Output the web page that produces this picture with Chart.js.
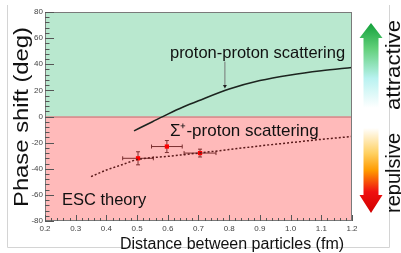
<!DOCTYPE html>
<html>
<head>
<meta charset="utf-8">
<script src="https://cdn.jsdelivr.net/npm/chart.js@4.4.0/dist/chart.umd.min.js"></script>
<style>
  body { margin: 0; background: #fff; }
  #wrap { width: 401px; height: 253px; }
</style>
</head>
<body>
<div id="wrap"><canvas id="myChart" width="401" height="253"></canvas></div>
<script>
// proton-proton curve
const ppX = [0.49, 0.55, 0.6, 0.65, 0.7, 0.8, 0.9, 1.0, 1.1, 1.2];
const ppY = [-11, -4, 1.8, 7.2, 12, 21, 27.5, 31.8, 35, 37.5];

// ESC theory (sigma+ p)
const escX = [0.35, 0.4, 0.45, 0.5, 0.6, 0.7, 0.8, 0.9, 1.0, 1.1, 1.2];
const escY = [-46, -41, -37, -33, -30.5, -28, -25.3, -22.5, -20, -17.5, -15.3];

// measured points with errors
const dataX = [0.503, 0.597, 0.705];
const dataY = [-32, -23, -28];
const dataXerr = [0.05, 0.05, 0.052];
const dataYerr = [5, 4.6, 3];

const xTicks = { min: 0.2, max: 1.2, step: 0.1, minor: 0.02 };
const yTicks = { min: -80, max: 80, step: 20, minor: 4 };

const FONT = '"Liberation Sans", Arial, sans-serif';

const canvas = document.getElementById('myChart');
const ctx = canvas.getContext('2d');

function toPoints(xs, ys) {
  return xs.map((x, i) => ({ x: x, y: ys[i] }));
}

// draw text stretched along its direction to fit a given length
function fitText(ctx, text, size, len) {
  ctx.font = size + 'px ' + FONT;
  const w = ctx.measureText(text).width;
  ctx.save();
  ctx.scale(len / w, 1);
  ctx.fillText(text, 0, 0);
  ctx.restore();
}

const bgPlugin = {
  id: 'bands',
  beforeDatasetsDraw(chart) {
    const { ctx, chartArea: a, scales: { x, y } } = chart;
    const y0 = y.getPixelForValue(0);
    ctx.save();
    ctx.fillStyle = '#b9e8cf';
    ctx.fillRect(a.left, a.top, a.right - a.left, y0 - a.top);
    ctx.fillStyle = '#ffbaba';
    ctx.fillRect(a.left, y0, a.right - a.left, a.bottom - y0);
    ctx.strokeStyle = '#b86868';
    ctx.lineWidth = 1;
    ctx.beginPath();
    ctx.moveTo(a.left, y0 + 0.5);
    ctx.lineTo(a.right, y0 + 0.5);
    ctx.stroke();

    // error bars (under the markers)
    ctx.strokeStyle = '#7a3030';
    ctx.lineWidth = 1;
    ctx.beginPath();
    dataX.forEach((dx, i) => {
      const px = x.getPixelForValue(dx);
      const py = y.getPixelForValue(dataY[i]);
      const x1 = x.getPixelForValue(dx - dataXerr[i]);
      const x2 = x.getPixelForValue(dx + dataXerr[i]);
      const y1 = y.getPixelForValue(dataY[i] + dataYerr[i]);
      const y2 = y.getPixelForValue(dataY[i] - dataYerr[i]);
      ctx.moveTo(x1, py); ctx.lineTo(x2, py);
      ctx.moveTo(x1, py - 2); ctx.lineTo(x1, py + 2);
      ctx.moveTo(x2, py - 2); ctx.lineTo(x2, py + 2);
      ctx.moveTo(px, y1); ctx.lineTo(px, y2);
      ctx.moveTo(px - 2, y1); ctx.lineTo(px + 2, y1);
      ctx.moveTo(px - 2, y2); ctx.lineTo(px + 2, y2);
    });
    ctx.stroke();
    ctx.restore();
  },
  afterDatasetsDraw(chart) {
    const { ctx, chartArea: a, scales: { x, y } } = chart;
    ctx.save();
    // plot frame
    ctx.strokeStyle = '#7a7a7a';
    ctx.lineWidth = 1;
    ctx.strokeRect(a.left + 0.5, a.top + 0.5, a.right - a.left - 1, a.bottom - a.top - 1);
    // ticks inside
    ctx.strokeStyle = '#555';
    ctx.beginPath();
    for (let v = yTicks.min; v <= yTicks.max + 0.001; v += yTicks.minor) {
      const py = Math.round(y.getPixelForValue(v)) + 0.5;
      const len = Math.abs(v % yTicks.step) < 0.01 ? 9 : 4.5;
      ctx.moveTo(a.left, py);
      ctx.lineTo(a.left + len, py);
    }
    for (let i = 0; i <= Math.round((xTicks.max - xTicks.min) / xTicks.minor); i++) {
      const v = xTicks.min + i * xTicks.minor;
      const px = Math.round(x.getPixelForValue(v)) + 0.5;
      const len = i % 5 === 0 ? 6 : 3;
      ctx.moveTo(px, a.bottom);
      ctx.lineTo(px, a.bottom - len);
    }
    ctx.stroke();

    // annotation texts
    ctx.fillStyle = '#111';
    ctx.textBaseline = 'alphabetic';
    ctx.textAlign = 'left';
    ctx.font = '16.5px ' + FONT;
    ctx.fillText('proton-proton scattering', x.getPixelForValue(0.607), y.getPixelForValue(44.6));
    ctx.fillText('ESC theory', x.getPixelForValue(0.255), y.getPixelForValue(-67.7));
    ctx.font = '17px ' + FONT;
    ctx.fillText('\u03A3\u207A-proton scattering', x.getPixelForValue(0.607), y.getPixelForValue(-15));

    // small pointer arrow
    const ax = x.getPixelForValue(0.786);
    const aTop = y.getPixelForValue(42);
    const aTip = y.getPixelForValue(21.5);
    ctx.strokeStyle = '#777';
    ctx.beginPath();
    ctx.moveTo(ax, aTop);
    ctx.lineTo(ax, aTip - 3);
    ctx.stroke();
    ctx.fillStyle = '#222';
    ctx.beginPath();
    ctx.moveTo(ax - 2, aTip - 3.5);
    ctx.lineTo(ax + 2, aTip - 3.5);
    ctx.lineTo(ax, aTip);
    ctx.closePath();
    ctx.fill();
    ctx.restore();
  },
  afterDraw(chart) {
    const { ctx } = chart;
    ctx.save();
    // light outer frame
    ctx.strokeStyle = '#d4d4d4';
    ctx.lineWidth = 1;
    ctx.beginPath();
    ctx.moveTo(7.5, 5);
    ctx.lineTo(7.5, 247.5);
    ctx.lineTo(389.5, 247.5);
    ctx.lineTo(389.5, 5);
    ctx.stroke();

    // axis titles
    ctx.fillStyle = '#111';
    ctx.font = '16px ' + FONT;
    ctx.textAlign = 'center';
    ctx.textBaseline = 'alphabetic';
    ctx.fillText('Distance between particles (fm)', 232, 249);

    ctx.save();
    ctx.translate(27.5, 117);
    ctx.rotate(-Math.PI / 2);
    fitText(ctx, 'Phase shift (deg)', 20.5, 180);
    ctx.restore();

    // side arrows
    const cx = 371;
    let g = ctx.createLinearGradient(0, 23, 0, 108);
    g.addColorStop(0, '#12a03a');
    g.addColorStop(0.3, '#62d07a');
    g.addColorStop(0.65, '#b8f2f0');
    g.addColorStop(1, '#ffffff');
    ctx.fillStyle = g;
    ctx.beginPath();
    ctx.moveTo(cx, 23);
    ctx.lineTo(cx + 11.5, 38);
    ctx.lineTo(cx + 7.5, 38);
    ctx.lineTo(cx + 7.5, 108);
    ctx.lineTo(cx - 7.5, 108);
    ctx.lineTo(cx - 7.5, 38);
    ctx.lineTo(cx - 11.5, 38);
    ctx.closePath();
    ctx.fill();

    g = ctx.createLinearGradient(0, 128, 0, 213);
    g.addColorStop(0, '#ffffff');
    g.addColorStop(0.3, '#ffd060');
    g.addColorStop(0.5, '#ff9a00');
    g.addColorStop(0.75, '#f01010');
    g.addColorStop(1, '#d00000');
    ctx.fillStyle = g;
    ctx.beginPath();
    ctx.moveTo(cx - 7.5, 128);
    ctx.lineTo(cx + 7.5, 128);
    ctx.lineTo(cx + 7.5, 195);
    ctx.lineTo(cx + 11.5, 195);
    ctx.lineTo(cx, 213);
    ctx.lineTo(cx - 11.5, 195);
    ctx.lineTo(cx - 7.5, 195);
    ctx.closePath();
    ctx.fill();

    ctx.fillStyle = '#111';
    ctx.textAlign = 'center';
    ctx.textBaseline = 'alphabetic';
    ctx.save();
    ctx.translate(400, 65);
    ctx.rotate(-Math.PI / 2);
    fitText(ctx, 'attractive', 20, 90);
    ctx.restore();
    ctx.save();
    ctx.translate(400, 173);
    ctx.rotate(-Math.PI / 2);
    fitText(ctx, 'repulsive', 20, 80);
    ctx.restore();
    ctx.restore();
  }
};

const myChart = new Chart(ctx, {
  type: 'scatter',
  data: {
    datasets: [
      {
        label: 'proton-proton',
        data: toPoints(ppX, ppY),
        showLine: true,
        cubicInterpolationMode: 'monotone',
        borderColor: '#1c241f',
        borderWidth: 1.6,
        pointRadius: 0
      },
      {
        label: 'ESC theory',
        data: toPoints(escX, escY),
        showLine: true,
        cubicInterpolationMode: 'monotone',
        borderColor: '#5a1a1a',
        borderWidth: 1.5,
        borderDash: [2, 2],
        pointRadius: 0
      },
      {
        label: 'data',
        data: toPoints(dataX, dataY),
        pointStyle: 'rect',
        pointRadius: 3,
        backgroundColor: '#ff0000',
        borderColor: '#ff0000',
        borderWidth: 0
      }
    ]
  },
  options: {
    responsive: false,
    animation: false,
    layout: { padding: { left: 0, top: 12, right: 49, bottom: 0 } },
    plugins: { legend: { display: false }, tooltip: { enabled: false } },
    scales: {
      x: {
        type: 'linear',
        min: xTicks.min,
        max: xTicks.max,
        afterFit: s => { s.height = 32; },
        grid: { display: false, drawTicks: false },
        border: { display: false },
        ticks: { stepSize: xTicks.step, padding: 3, color: '#444', font: { size: 8, family: 'Liberation Sans' } }
      },
      y: {
        min: yTicks.min,
        max: yTicks.max,
        afterFit: s => { s.width = 45; },
        grid: { display: false, drawTicks: false },
        border: { display: false },
        ticks: { stepSize: yTicks.step, padding: 2, color: '#444', font: { size: 8, family: 'Liberation Sans' } }
      }
    }
  },
  plugins: [bgPlugin]
});
</script>
</body>
</html>
